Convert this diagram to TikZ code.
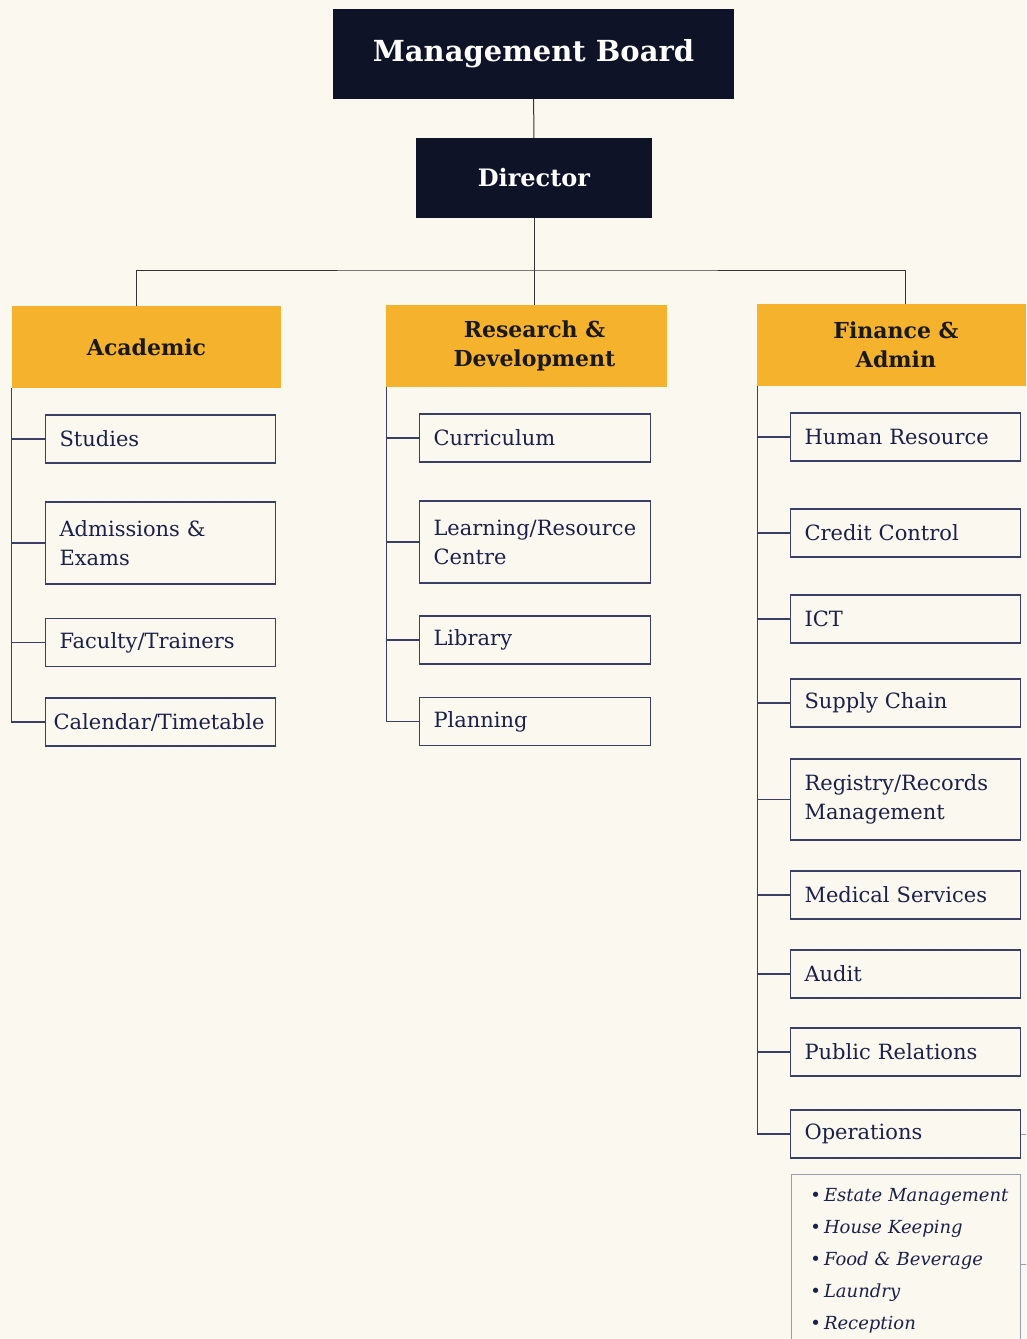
\documentclass[tikz,border=0pt]{standalone}
\usepackage{fontspec}
\setmainfont{DejaVu Serif}
\definecolor{bgc}{HTML}{FBF9EF}
\definecolor{darkbox}{HTML}{0F1328}
\definecolor{gold}{HTML}{F5B22C}
\definecolor{boxc}{HTML}{3B3F66}
\definecolor{txtc}{HTML}{1C1F4A}
\definecolor{listc}{HTML}{9A9CAE}
\newcommand{\listitem}[1]{\mbox{\hspace*{7pt}{\upshape\textbullet}\,#1}}
\tikzset{
  darknode/.style={fill=darkbox, text=white, inner sep=0pt, font=\bfseries},
  headnode/.style={fill=gold, text=black!90, inner sep=0pt, align=center, minimum height=82pt, font=\bfseries\fontsize{22}{29}\selectfont},
  subnode/.style={draw=boxc, line width=1.1pt, text=txtc, anchor=west, align=left, inner xsep=14pt, inner ysep=0pt, minimum height=48pt, font=\fontsize{21}{29}\selectfont},
  topline/.style={draw=black!80, line width=1pt},
  tie/.style={draw=boxc, line width=1.1pt}
}
\begin{document}
\begin{tikzpicture}[x=1pt,y=-1pt]
\clip (0,0) rectangle (1026,1339);
\fill[bgc] (0,0) rectangle (1026,1339);

% top
\node[darknode, minimum width=401pt, minimum height=90pt, font=\bfseries\fontsize{29}{34}\selectfont] (mb) at (533.5,54) {Management Board};
\node[darknode, minimum width=236pt, minimum height=80pt, font=\bfseries\fontsize{24}{29}\selectfont] (dir) at (534,178) {Director};

% headers
\node[headnode, minimum width=269pt] (acad) at (146.5,347) {Academic};
\node[headnode, minimum width=281pt] (rd) at (526.5,346) {\hspace*{16pt}Research \&\\\hspace*{16pt}Development};
\node[headnode, minimum width=269pt] (fa) at (891.5,345) {\hspace*{9pt}Finance \&\\\hspace*{9pt}Admin};

\coordinate (bar) at (534,270);
\draw[topline] (mb) -- (dir);
\draw[topline] (dir.south) -- (dir.south |- rd.north);
\draw[topline] ([xshift=-10pt]acad.north) |- (bar) -| ([xshift=13.5pt]fa.north);

% Academic
\node[subnode, text width=202pt] (st) at (45,439) {Studies};
\node[subnode, text width=202pt, minimum height=82pt] (adm) at (45,543) {Admissions \&\\Exams};
\node[subnode, text width=202pt] (fac) at (45,642.5) {Faculty/Trainers};
\node[subnode, text width=214pt, inner xsep=8pt] (cal) at (45,722) {Calendar/Timetable};
\draw[tie] (acad.south west) |- (cal.west);
\foreach \n in {st,adm,fac} \draw[tie] (acad.south west |- \n.west) -- (\n.west);

% R&D
\node[subnode, text width=203pt] (cur) at (419,438) {Curriculum};
\node[subnode, text width=203pt, minimum height=82pt] (lrc) at (419,542) {Learning/Resource\\Centre};
\node[subnode, text width=203pt] (lib) at (419,640) {Library};
\node[subnode, text width=203pt] (pla) at (419,721.5) {Planning};
\draw[tie] ([xshift=1pt]rd.south west) |- (pla.west);
\foreach \n in {cur,lrc,lib} \draw[tie] ([xshift=1pt]rd.south west |- \n.west) -- (\n.west);

% Finance & Admin
\node[subnode, text width=202pt] (hr) at (790,437) {Human Resource};
\node[subnode, text width=202pt] (cc) at (790,533) {Credit Control};
\node[subnode, text width=202pt] (ict) at (790,619) {ICT};
\node[subnode, text width=202pt] (sc) at (790,703) {Supply Chain};
\node[subnode, text width=202pt, minimum height=81pt] (reg) at (790,799.5) {Registry/Records\\Management};
\node[subnode, text width=202pt] (med) at (790,895) {Medical Services};
\node[subnode, text width=202pt] (aud) at (790,974) {Audit};
\node[subnode, text width=202pt] (pr) at (790,1052) {Public Relations};
\node[subnode, text width=202pt] (ops) at (790,1134) {Operations};
\draw[tie] ([xshift=1pt]fa.south west) |- (ops.west);
\foreach \n in {hr,cc,ict,sc,reg,med,aud,pr} \draw[tie] ([xshift=1pt]fa.south west |- \n.west) -- (\n.west);

% operations list
\node[draw=listc, line width=0.8pt, anchor=north west, text=txtc, align=left, text width=205pt, inner xsep=12pt, inner ysep=14pt, font=\itshape\fontsize{18}{32}\selectfont] (opl) at (791,1174)
{\listitem{Estate Management}\\\listitem{House Keeping}\\\listitem{Food \& Beverage}\\\listitem{Laundry}\\\listitem{Reception}};

\coordinate (st1) at (1030,1134);
\coordinate (st2) at (1030,1264);
\draw[draw=listc, line width=0.8pt] (ops.east) -- (st1);
\draw[draw=listc, line width=0.8pt] ([yshift=-90pt]opl.north east) -- (st2);
\end{tikzpicture}
\end{document}
